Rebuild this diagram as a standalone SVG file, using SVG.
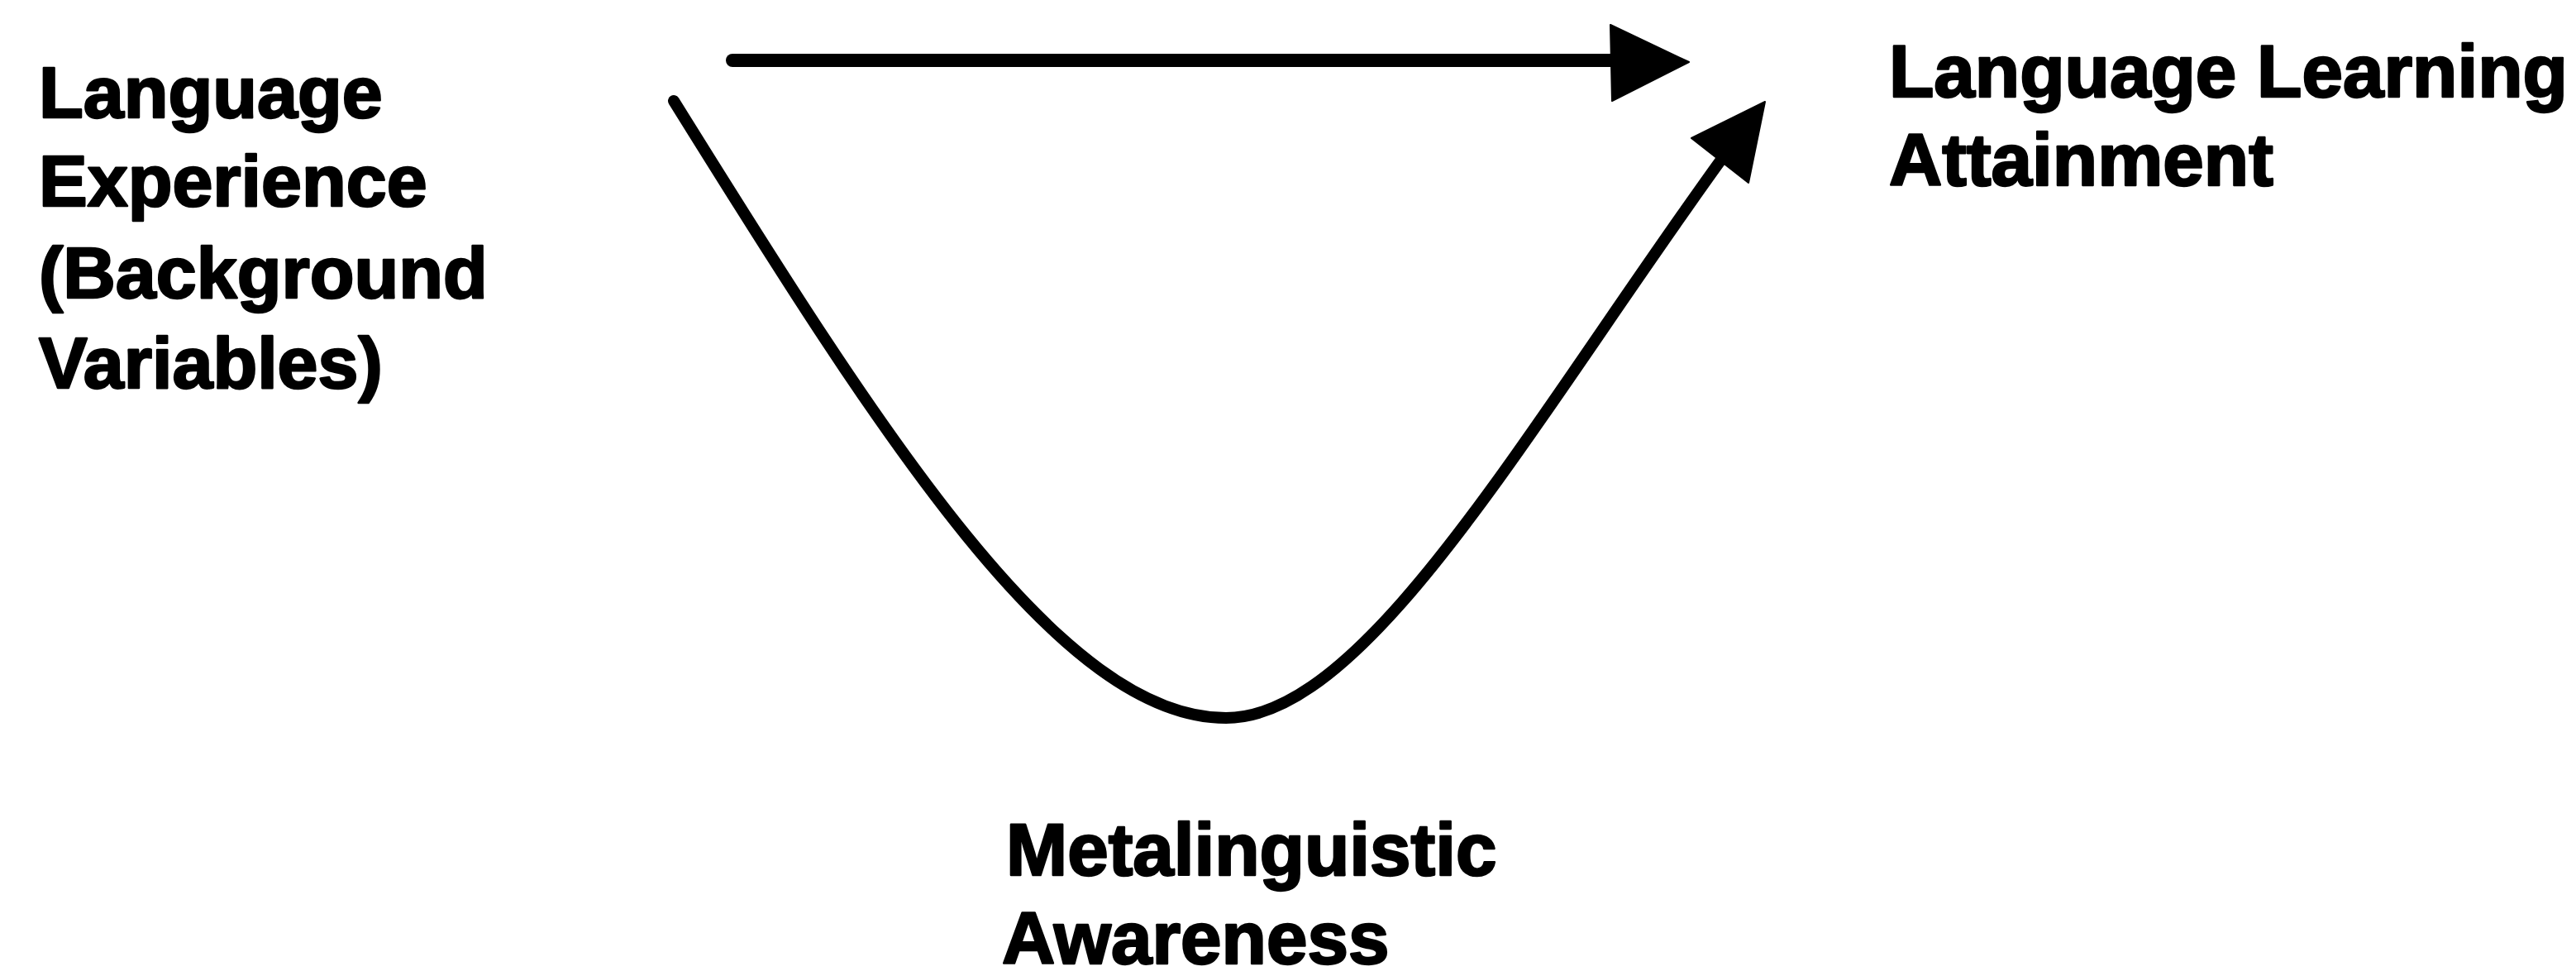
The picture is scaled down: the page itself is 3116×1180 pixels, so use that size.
<svg xmlns="http://www.w3.org/2000/svg" width="3116" height="1180" viewBox="0 0 3116 1180">
<style>
.lbl{font-family:"Liberation Sans",Arial,sans-serif;font-weight:bold;font-size:89px;fill:#000;stroke:#000;stroke-width:2.5;stroke-linejoin:round}
.sm{font-size:88px}
.ln{fill:none;stroke:#000;stroke-linecap:round;stroke-linejoin:round}
.ah{fill:#000;stroke:#000;stroke-width:2;stroke-linejoin:round}
</style>
<rect width="3116" height="1180" fill="#fff"/>
<g id="node-language-experience">
<text class="lbl sm" x="47" y="142">Language</text>
<text class="lbl sm" x="47" y="249">Experience</text>
<text class="lbl sm" x="47" y="360">(Background</text>
<text class="lbl sm" x="47" y="469">Variables)</text>
</g>
<g id="node-language-learning-attainment">
<text class="lbl" x="2285" y="117">Language Learning</text>
<text class="lbl" x="2285" y="224">Attainment</text>
</g>
<g id="node-metalinguistic-awareness">
<text class="lbl" x="1217" y="1058">Metalinguistic</text>
<text class="lbl" x="1212" y="1165">Awareness</text>
</g>
<g id="connectors">
<line class="ln" stroke-width="16" x1="886" y1="73" x2="1955" y2="73"/>
<polygon class="ah" points="1948,30 2043,75 1950,122"/>
<path class="ln" stroke-width="14" d="M815,122 C1069,530 1283,868 1483,868 C1653,868 1847.6,517 2082,193"/>
<polygon class="ah" points="2135,123 2046,167 2115,221"/>
</g>
</svg>
